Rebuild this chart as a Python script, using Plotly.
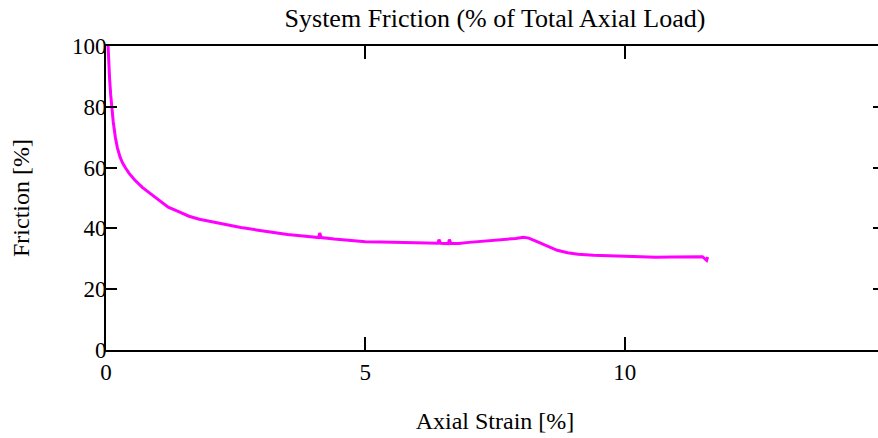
import plotly.graph_objects as go

# Data
strain = [0.04, 0.05, 0.07, 0.09, 0.11, 0.14, 0.18, 0.22, 0.27, 0.32, 0.38, 0.45, 0.55, 0.7, 0.85,
          1.0, 1.2, 1.4, 1.6, 1.8, 2.0, 2.3, 2.6, 2.9, 3.2, 3.5, 3.8, 4.1, 4.12, 4.15,
          4.4, 4.7, 5.0, 5.3, 5.6, 5.9, 6.2, 6.4, 6.42, 6.45, 6.6, 6.62, 6.65, 6.8,
          7.0, 7.3, 7.6, 7.9, 8.05, 8.15, 8.3, 8.5, 8.7, 8.9, 9.1, 9.4, 9.7, 10.0,
          10.3, 10.6, 10.9, 11.2, 11.5, 11.58, 11.6]
friction = [100, 95, 89, 84, 80, 75, 70, 66.5, 63.5, 61.5, 59.8, 58, 56, 53.5, 51.5,
            49.5, 47, 45.5, 44, 43, 42.3, 41.3, 40.3, 39.5, 38.7, 38, 37.5, 37, 38.5, 37,
            36.5, 36, 35.6, 35.5, 35.4, 35.3, 35.2, 35.1, 36.3, 35.1, 35, 36.3, 35, 35,
            35.4, 35.8, 36.3, 36.7, 37.1, 36.8, 35.7, 34.2, 32.8, 32, 31.5, 31.2, 31, 30.8,
            30.6, 30.5, 30.6, 30.7, 30.7, 29.5, 30.6]

x_ticks = [0, 5, 10, 15]
x_ticklabels = ["0", "5", "10", ""]
y_ticks = [0, 20, 40, 60, 80, 100]
y_ticklabels = ["0", "20", "40", "60", "80", "100"]

FONT = "Liberation Serif"

fig = go.Figure()
fig.add_trace(go.Scatter(
    x=strain, y=friction, mode="lines",
    line=dict(color="#FF00FF", width=3),
    showlegend=False,
))

fig.update_layout(
    width=886, height=438,
    margin=dict(l=106, r=0, t=46, b=88),
    plot_bgcolor="white", paper_bgcolor="white",
    font=dict(family=FONT, size=22, color="black"),
    title=dict(text="System Friction (% of Total Axial Load)",
               x=0.5, xref="paper", y=1 - 18 / 438, yref="container",
               yanchor="middle", xanchor="center",
               font=dict(family=FONT, size=26, color="black")),
)
fig.update_xaxes(
    range=[0, 15], tickvals=x_ticks, ticktext=x_ticklabels,
    ticks="inside", ticklen=13, tickwidth=2, tickcolor="black",
    tickfont=dict(family=FONT, size=23, color="black"),
    showline=True, linewidth=2, linecolor="black", mirror="ticks",
    showgrid=False, zeroline=False,
    title=dict(text="Axial Strain [%]", standoff=29,
               font=dict(family=FONT, size=24, color="black")),
)
fig.update_yaxes(
    range=[0, 100], tickvals=y_ticks, ticktext=y_ticklabels,
    ticks="inside", ticklen=11, tickwidth=2, tickcolor="black",
    tickfont=dict(family=FONT, size=23, color="black"),
    ticklabelstandoff=-7,
    showline=True, linewidth=2, linecolor="black", mirror="ticks",
    showgrid=False, zeroline=False,
    title=dict(text="Friction [%]", standoff=36,
               font=dict(family=FONT, size=24, color="black")),
)

fig.write_html("out.html",
               post_script="document.documentElement.style.overflow='hidden';"
                           "document.body.style.overflow='hidden';"
                           "document.body.style.margin='0';")
